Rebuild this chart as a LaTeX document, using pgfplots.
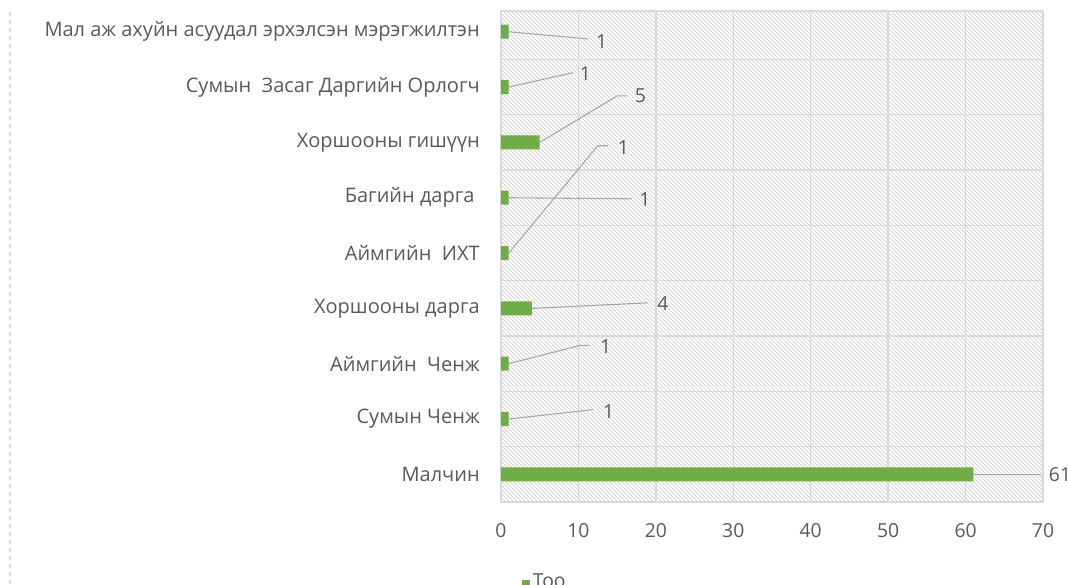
\documentclass[border=0pt]{standalone}
\usepackage{pgfplots}
\pgfplotsset{compat=1.18}
\usepackage{fontspec}
\setmainfont{Open Sans}
\usetikzlibrary{patterns}
\definecolor{bargreen}{HTML}{70AD47}
\definecolor{txtgray}{HTML}{595959}
\definecolor{gridgray}{HTML}{D9D9D9}
\definecolor{hatchgray}{HTML}{C8C8C8}
\definecolor{leadgray}{HTML}{A6A6A6}
\begin{document}
\begin{tikzpicture}
\begin{axis}[
  scale only axis,
  width=406.5pt, height=368.25pt,
  xmin=0, xmax=70, ymin=-0.5, ymax=8.375,
  xtick={0,10,...,70},
  ytick={0,...,8},
  yticklabels={Малчин\ , Сумын Ченж\ , Аймгийн\ \ Ченж, Хоршооны дарга\ , Аймгийн\ \ ИХТ, Багийн дарга\ \ , Хоршооны гишүүн\ , Сумын\ \ Засаг Даргийн Орлогч\ , Мал аж ахуйн асуудал эрхэлсэн мэрэгжилтэн\ },
  minor ytick={0.5,1.5,...,7.5},
  xmajorgrids, yminorgrids,
  major grid style={draw=gridgray, line width=1pt},
  minor grid style={draw=gridgray, line width=1pt},
  axis line style={draw=gridgray, line width=1pt},
  major tick length=0pt, minor tick length=0pt,
  tick style={draw=none},
  /pgf/number format/assume math mode=true,
  tick label style={font=\fontsize{14.5}{16}\selectfont, text=txtgray},
  yticklabel style={anchor=east, inner sep=0pt, xshift=-15.75pt, font=\fontsize{15}{17}\selectfont},
  xticklabel style={anchor=center, inner sep=0pt, yshift=-21.75pt},
  axis background/.style={pattern=north west lines, pattern color=hatchgray},
  legend style={at={(0.0387,-0.163)}, anchor=west, draw=none, fill=none, inner sep=0pt,
    font=\fontsize{14.5}{16}\selectfont, text=txtgray},
  legend image code/.code={\fill[#1] (0pt,-4.5pt) rectangle (6pt,1.5pt);},
  clip=false,
]
\addplot[xbar, fill=bargreen, draw=none, bar width=10.5pt, bar shift=0pt]
  coordinates {(61,0) (1,1) (1,2) (4,3) (1,4) (1,5) (5,6) (1,7) (1,8)};
\addlegendentry{Тоо}
% leader lines
\addplot[leadgray, line width=0.8pt, forget plot] coordinates {(1,8) (11.2,7.87)};
\addplot[leadgray, line width=0.8pt, forget plot] coordinates {(1,7) (9.3,7.26)};
\addplot[leadgray, line width=0.8pt, forget plot] coordinates {(5,6) (15.0,6.84) (16.3,6.84)};
\addplot[leadgray, line width=0.8pt, forget plot] coordinates {(1,5) (16.9,4.98)};
\addplot[leadgray, line width=0.8pt, forget plot] coordinates {(1,4) (12.5,5.94) (13.8,5.94)};
\addplot[leadgray, line width=0.8pt, forget plot] coordinates {(4,3) (19.0,3.10)};
\addplot[leadgray, line width=0.8pt, forget plot] coordinates {(1,2) (10.2,2.33) (11.5,2.33)};
\addplot[leadgray, line width=0.8pt, forget plot] coordinates {(1,1) (11.9,1.17)};
\addplot[leadgray, line width=0.8pt, forget plot] coordinates {(61,0) (69.7,0)};
% data labels
\addplot[draw=none, mark=none, forget plot, nodes near coords, point meta=explicit symbolic,
  every node near coord/.append style={anchor=center, inner sep=0pt, font=\fontsize{14.5}{16}\selectfont, text=txtgray}]
  coordinates {(13.0,7.82)[1] (10.9,7.24)[1] (18.0,6.84)[5] (18.6,4.96)[1] (15.8,5.90)[1]
               (20.9,3.09)[4] (13.5,2.31)[1] (13.9,1.14)[1] (72.2,0)[61]};
\end{axis}
\draw[gridgray, dashed, line width=0.8pt] ([shift={(-368.25pt,-61.5pt)}]current axis.south west) -- ([shift={(-368.25pt,0.75pt)}]current axis.north west);
\pgfresetboundingbox
\path[use as bounding box] ([shift={(-375.75pt,-61.5pt)}]current axis.south west) rectangle ([shift={(18.75pt,8.25pt)}]current axis.north east);
\end{tikzpicture}
\end{document}
